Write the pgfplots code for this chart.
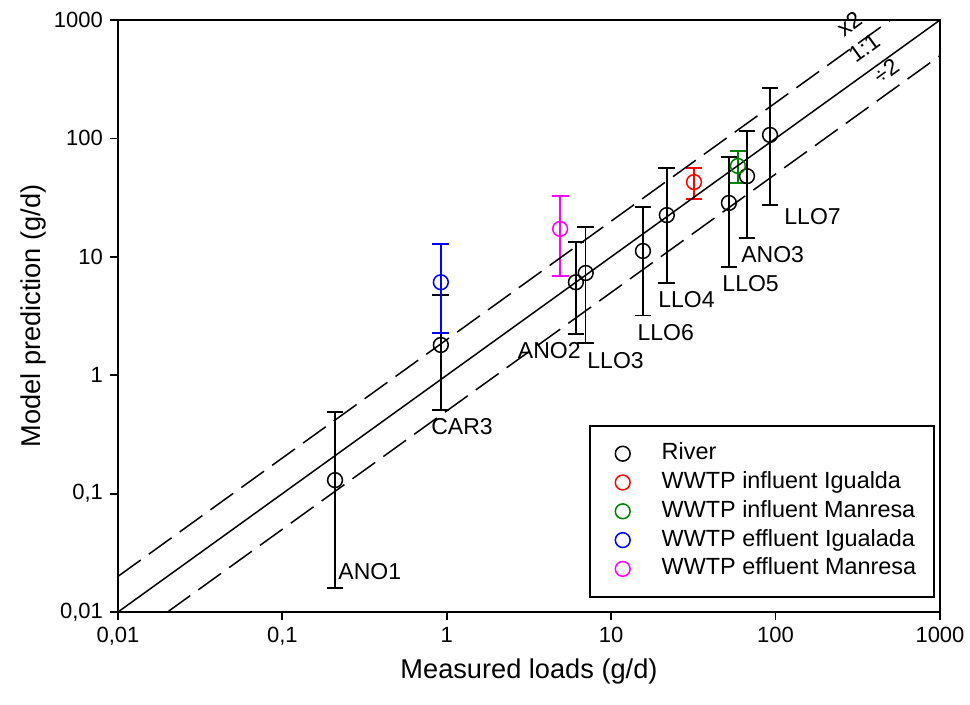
\documentclass[border=0pt]{standalone}
\usepackage{pgfplots}
\pgfplotsset{compat=1.18}
\usetikzlibrary{calc}
\usepackage{fontspec}
\setmainfont{Liberation Sans}
\definecolor{infgreen}{RGB}{0,128,0}
\definecolor{effmag}{RGB}{255,0,255}
\definecolor{infred}{RGB}{255,0,0}
\definecolor{effblue}{RGB}{0,0,255}

% x, y, upper and lower error (g/d)
\pgfplotstableread{
x     y     ep     em
0.209 0.13  0.36   0.114
0.92  1.8   2.95   1.29
6.1   6.1   7.2    3.87
7.0   7.3   10.6   5.43
15.6  11.2  15.1   8.0
21.8  22.5  33.5   16.5
52    28.5  41.1   20.3
67    48    67     33.6
92.5  107   160    79.6
}\river
\pgfplotstableread{
x     y     ep     em
31.9  42.8  13.2   12.0
}\infigu
\pgfplotstableread{
x     y     ep     em
59    58.5  19.5   16.5
}\infman
\pgfplotstableread{
x     y     ep     em
0.92  6.1   6.7    3.83
}\effigu
\pgfplotstableread{
x     y     ep     em
4.89  17.2  15.4   10.3
}\effman

\begin{document}
\begin{tikzpicture}
\begin{loglogaxis}[
  name=ax,
  scale only axis, width=411pt, height=296pt,
  xmin=0.01, xmax=1000, ymin=0.01, ymax=1000,
  xtick={0.01,0.1,1,10,100,1000}, ytick={0.01,0.1,1,10,100,1000},
  xticklabels={{0,01},{0,1},1,10,100,1000},
  yticklabels={{0,01},{0,1},1,10,100,1000},
  minor tick length=0pt, tick align=outside, major tick length=4pt,
  xtick pos=bottom, ytick pos=left,
  axis line style={line width=1pt}, tick style={line width=0.9pt, black},
  ticklabel style={font=\fontsize{11}{13}\selectfont},
  xlabel={Measured loads (g/d)}, ylabel={Model prediction (g/d)},
  label style={font=\fontsize{13.6}{16}\selectfont},
  ylabel style={yshift=-3pt},
  clip=false,
  legend cell align=left,
  legend style={at={(rel axis cs:0.994,0.024)}, anchor=south east,
    draw=black, line width=0.9pt, inner xsep=8pt, inner ysep=7pt,
    font=\fontsize{11.7}{14}\selectfont, row sep=0.4pt,
    nodes={inner sep=1pt, text height=9pt, text depth=3pt}},
  legend image code/.code={\path[draw=none, fill=none] (0cm,-3pt) rectangle (0.95cm,3pt);
    \draw[mark repeat=2,mark phase=2,#1] plot coordinates {(0cm,0cm) (0.3cm,0cm) (0.6cm,0cm)};},
  every axis plot/.append style={only marks, mark=o, mark size=3.7pt, line width=0.75pt,
    mark options={fill=white}},
  error bars/y dir=both, error bars/y explicit,
  error bars/error mark options={rotate=90, mark size=4.2pt, line width=0.75pt},
]
\addplot[black, error bars/error bar style={black, line width=0.75pt}]
  table[x=x, y=y, y error plus=ep, y error minus=em] {\river};
\addlegendentry{River}
\addplot[infred, error bars/error bar style={infred, line width=0.75pt}]
  table[x=x, y=y, y error plus=ep, y error minus=em] {\infigu};
\addlegendentry{WWTP influent Igualda}
\addplot[infgreen, error bars/error bar style={infgreen, line width=0.75pt}]
  table[x=x, y=y, y error plus=ep, y error minus=em] {\infman};
\addlegendentry{WWTP influent Manresa}
\addplot[effblue, error bars/error bar style={effblue, line width=0.75pt}]
  table[x=x, y=y, y error plus=ep, y error minus=em] {\effigu};
\addlegendentry{WWTP effluent Igualada}
\addplot[effmag, error bars/error bar style={effmag, line width=0.75pt}]
  table[x=x, y=y, y error plus=ep, y error minus=em] {\effman};
\addlegendentry{WWTP effluent Manresa}

% reference lines 1:1, x2 and /2
\addplot[forget plot, black, no markers, sharp plot, line width=0.75pt, error bars/y dir=none]
  coordinates {(0.01,0.01) (1000,1000)};
\addplot[forget plot, black, no markers, sharp plot, line width=0.75pt, dash pattern=on 14pt off 5pt, error bars/y dir=none]
  coordinates {(0.01,0.02) (500,1000)};
\addplot[forget plot, black, no markers, sharp plot, line width=0.75pt, dash pattern=on 14pt off 5pt, error bars/y dir=none]
  coordinates {(0.02,0.01) (1000,500)};

\begin{scope}[font=\fontsize{11.5}{14}\selectfont, every node/.style={inner xsep=0.5pt}]
\node[anchor=west] at (axis cs:0.215,0.022) {ANO1};
\node[anchor=west] at (axis cs:0.79,0.365) {CAR3};
\node[anchor=east] at (axis cs:6.64,1.63) {ANO2};
\node[anchor=west] at (axis cs:7.03,1.32) {LLO3};
\node[anchor=west] at (axis cs:14.2,2.27) {LLO6};
\node[anchor=west] at (axis cs:19.0,4.32) {LLO4};
\node[anchor=west] at (axis cs:46.6,5.89) {LLO5};
\node[anchor=west] at (axis cs:60.7,10.4) {ANO3};
\node[anchor=west] at (axis cs:111,21.7) {LLO7};
\end{scope}
\begin{scope}[font=\fontsize{11.5}{13}\selectfont]
\node[yshift=-1.5pt, rotate=36, inner sep=0pt] at (axis cs:280,985) {x2};
\node[yshift=-2.5pt, xshift=-1pt, rotate=36, inner sep=0pt] at (axis cs:355,640) {1:1};
\node[yshift=-1pt, rotate=36, inner sep=0pt] at (axis cs:470,385) {÷2};
\end{scope}
\end{loglogaxis}
\pgfresetboundingbox
\path ($(ax.south west)+(-59pt,-46pt)$) rectangle ($(ax.north east)+(15pt,10pt)$);
\end{tikzpicture}
\end{document}
